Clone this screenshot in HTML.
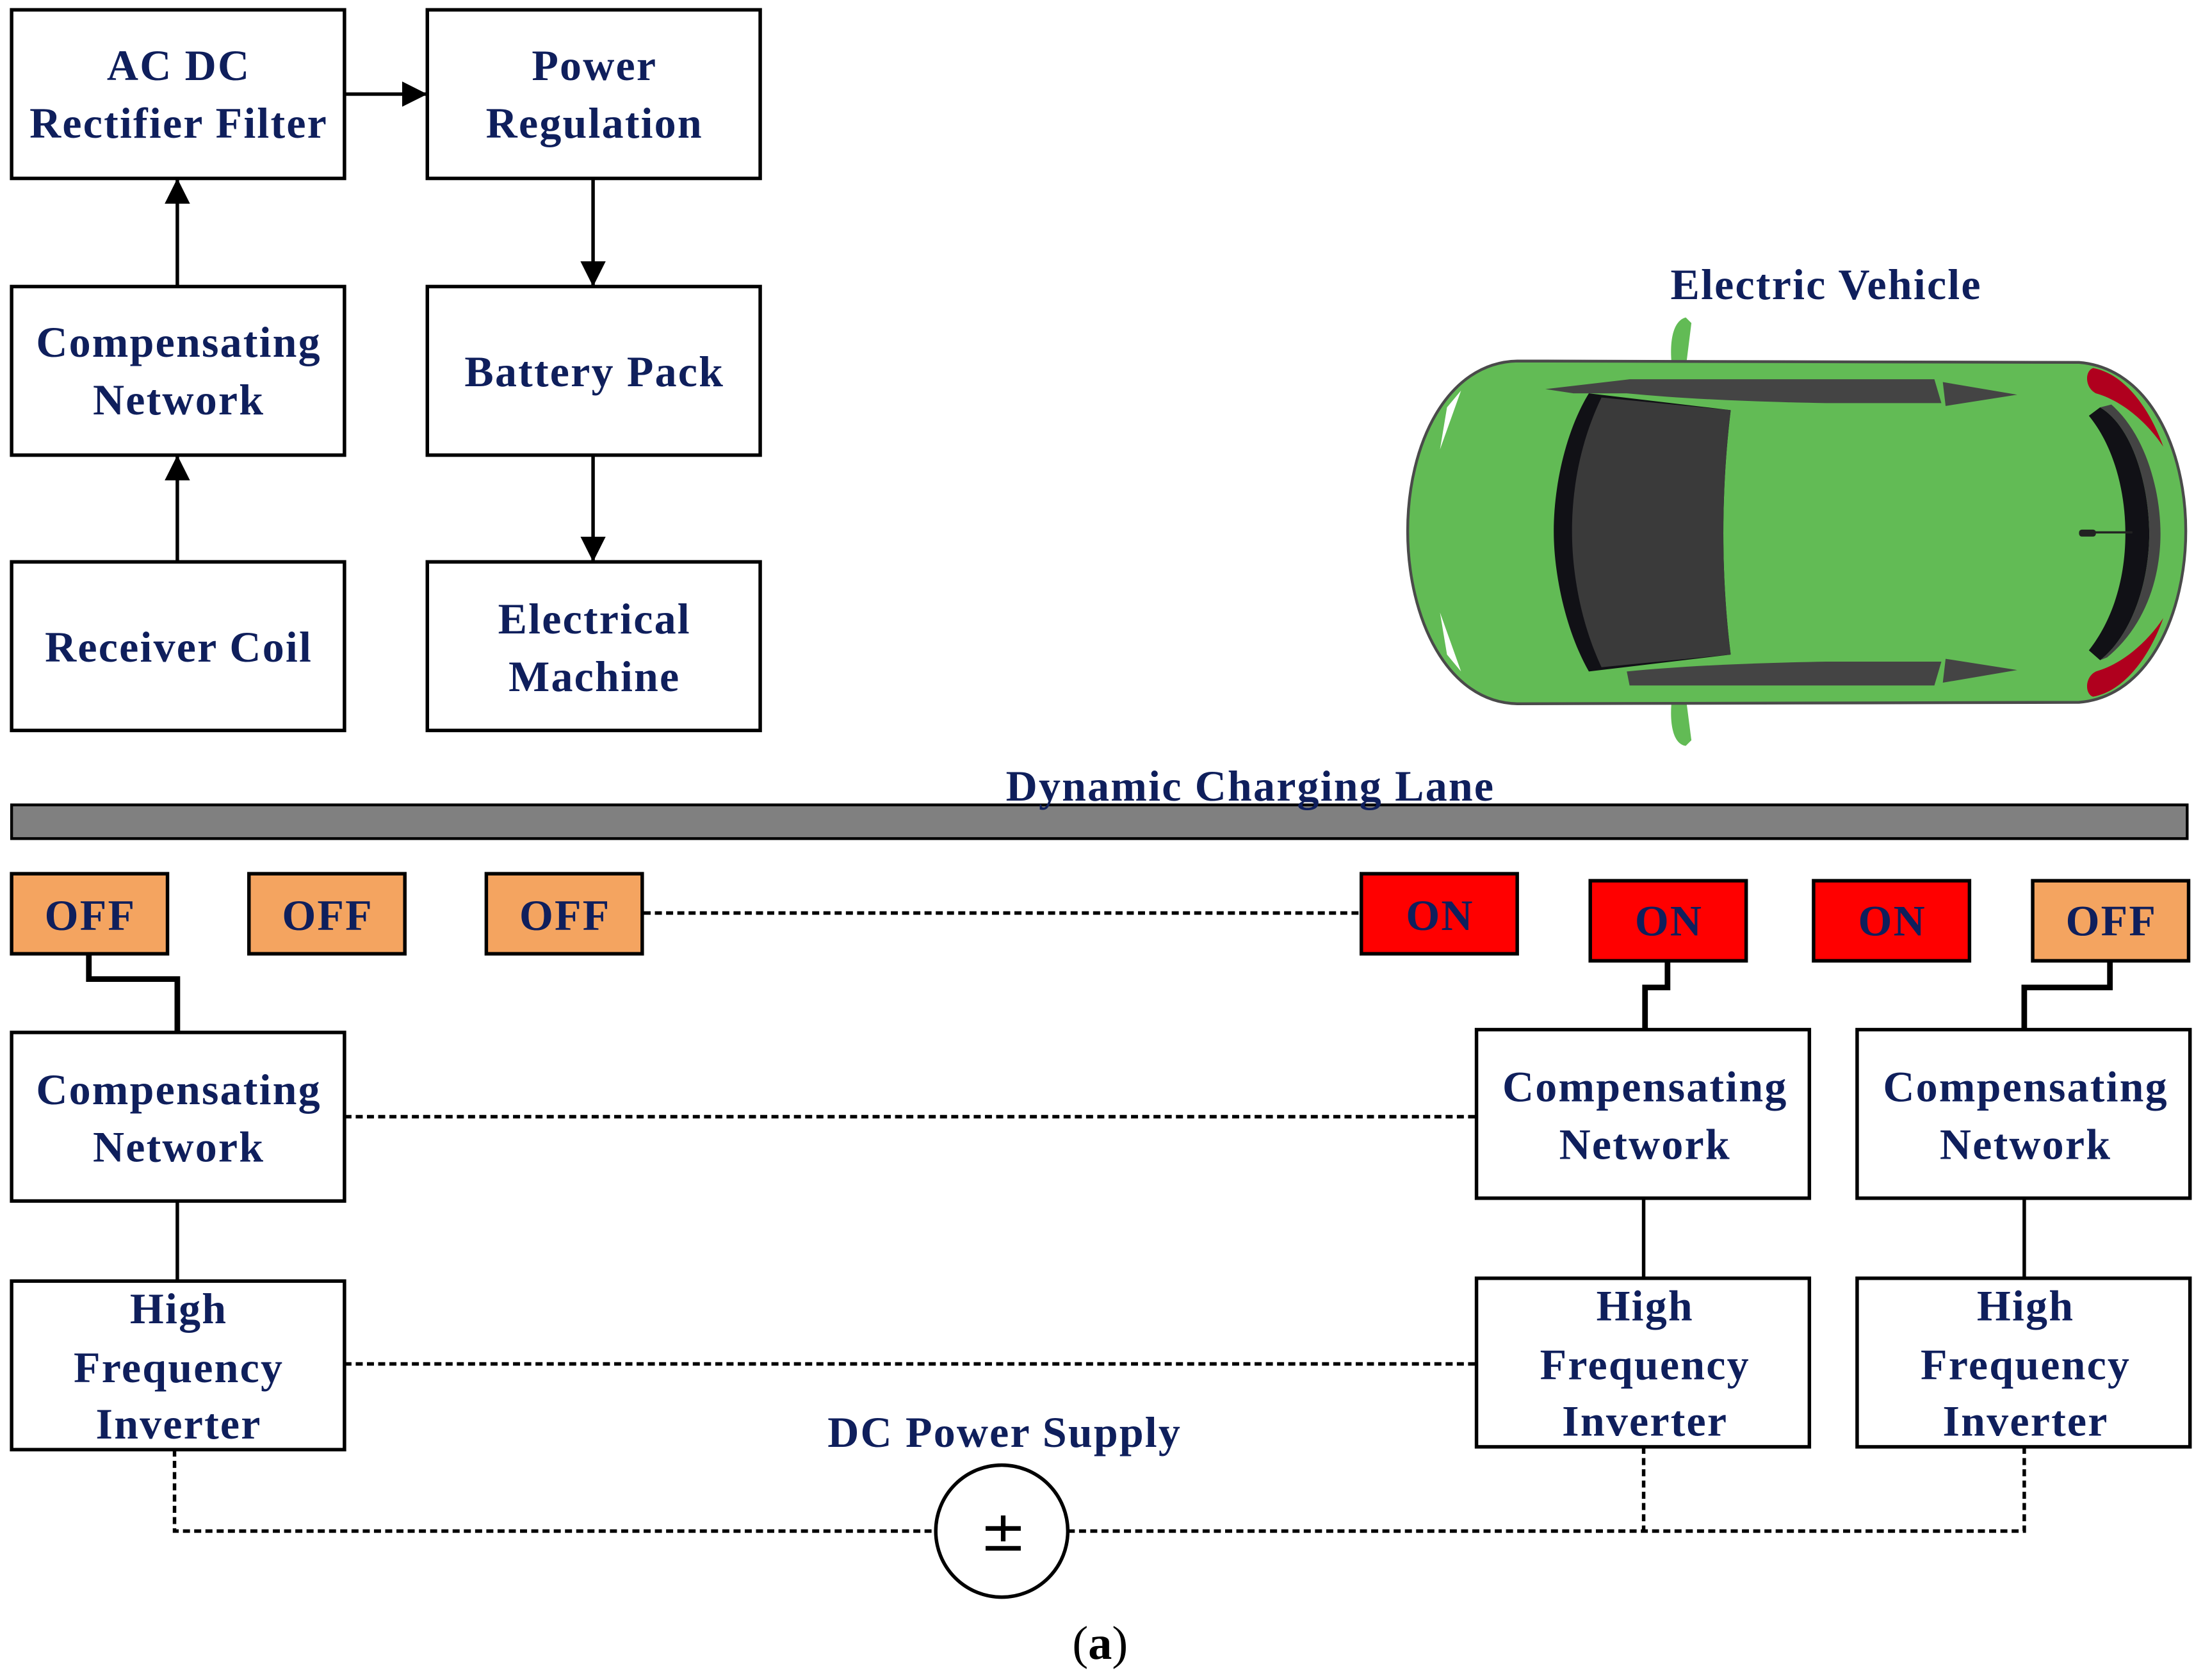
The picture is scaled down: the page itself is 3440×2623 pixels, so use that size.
<!DOCTYPE html>
<html><head><meta charset="utf-8"><style>html,body{margin:0;padding:0;background:#fff}svg{display:block}</style></head>
<body>
<svg width="3440" height="2623" viewBox="0 0 1568 1196" xmlns="http://www.w3.org/2000/svg">
<defs>
<marker id="a2" viewBox="0 0 10 10" markerWidth="18" markerHeight="22" refX="10" refY="5" orient="auto" markerUnits="userSpaceOnUse"><path d="M0,0 L10,5 L0,10 Z" fill="#000"/></marker></defs>
<style>
.b{fill:#fff;stroke:#000;stroke-width:2.5}
.t{font-family:"Liberation Serif",serif;font-weight:bold;font-size:31px;fill:#0f1f5c;text-anchor:middle;letter-spacing:1px}
.d{stroke:#000;stroke-width:2.5;stroke-dasharray:5,3;fill:none}
.k{stroke:#000;stroke-width:4;fill:none}
.l{stroke:#000;stroke-width:2.5;fill:none}
</style>
<rect class="b" x="8" y="7" width="237" height="120"/>
<text class="t" x="127" y="57">AC DC</text><text class="t" x="127" y="98">Rectifier Filter</text>
<rect class="b" x="304" y="7" width="237" height="120"/>
<text class="t" x="423" y="57">Power</text><text class="t" x="423" y="98">Regulation</text>
<rect class="b" x="8" y="204" width="237" height="120"/>
<text class="t" x="127" y="254">Compensating</text><text class="t" x="127" y="295">Network</text>
<rect class="b" x="304" y="204" width="237" height="120"/>
<text class="t" x="423" y="275">Battery Pack</text>
<rect class="b" x="8" y="400" width="237" height="120"/>
<text class="t" x="127" y="471">Receiver Coil</text>
<rect class="b" x="304" y="400" width="237" height="120"/>
<text class="t" x="423" y="451">Electrical</text><text class="t" x="423" y="492">Machine</text>
<line class="l" x1="245" y1="67" x2="304" y2="67" marker-end="url(#a2)"/>
<line class="l" x1="126" y1="204" x2="126" y2="127" marker-end="url(#a2)"/>
<line class="l" x1="126" y1="400" x2="126" y2="324" marker-end="url(#a2)"/>
<line class="l" x1="422" y1="127" x2="422" y2="204" marker-end="url(#a2)"/>
<line class="l" x1="422" y1="324" x2="422" y2="400" marker-end="url(#a2)"/>
<text class="t" x="1300" y="213">Electric Vehicle</text>
<path d="M1190,260 C1188,240 1192,228 1200,226 L1204,230 L1200,262 Z" fill="#62bb55"/>
<path d="M1190,498 C1188,518 1192,530 1200,531 L1204,527 L1200,496 Z" fill="#62bb55"/>
<path d="M1080,257 L1480,258 C1530,262 1556,320 1556,378 C1556,436 1530,496 1480,500 L1080,501 C1030,500 1002,440 1002,378 C1002,316 1030,258 1080,257 Z" fill="#62bb55" stroke="#4a4a4a" stroke-width="2"/>
<path d="M1030,290 L1040,278 L1025,320 Z M1030,466 L1040,478 L1025,436 Z" fill="#fff"/>
<path d="M1100,277 L1120,280 L1158,280 C1200,284 1245,286 1300,287 L1382,287 L1377,270 L1160,270 Z" fill="#444"/>
<path d="M1383,272 L1436,281 L1385,289 Z M1383,486 L1436,477 L1385,469 Z" fill="#444"/>
<path d="M1160,488 L1377,488 L1382,471 L1300,471 C1245,472 1200,474 1158,478 Z" fill="#444"/>
<path d="M1131,280 L1232,292 C1225,350 1225,410 1232,466 L1131,478 C1115,450 1106,410 1106,378 C1106,345 1115,306 1131,280 Z" fill="#111116"/>
<path d="M1140,283 L1232,292 C1225,350 1225,410 1232,466 L1140,475 C1126,445 1119,410 1119,378 C1119,345 1126,312 1140,283 Z" fill="#3a3a3a"/>
<path d="M1487,296 L1495,290 C1520,305 1530,350 1530,380 C1530,410 1520,450 1495,470 L1487,463 C1505,440 1513,410 1513,380 C1513,350 1505,318 1487,296 Z" fill="#111116"/>
<path d="M1495,290 C1520,305 1530,350 1530,380 C1530,410 1520,450 1495,470 L1500,468 C1528,445 1538,410 1538,380 C1538,350 1528,310 1503,288 Z" fill="#444"/>
<path d="M1490,262 C1512,266 1530,290 1540,318 C1528,300 1510,285 1492,280 C1484,276 1484,264 1490,262 Z M1490,496 C1512,492 1530,468 1540,440 C1528,458 1510,473 1492,478 C1484,482 1484,494 1490,496 Z" fill="#b0001e"/>
<line x1="1486" y1="379" x2="1518" y2="379" stroke="#222" stroke-width="1.5"/><rect x="1480" y="377" width="12" height="5" rx="2" fill="#222"/>
<rect x="8" y="573" width="1549" height="24" fill="#808080" stroke="#000" stroke-width="2"/>
<text class="t" x="890" y="570">Dynamic Charging Lane</text>
<g stroke="#000" stroke-width="2.5">
<rect x="8" y="622" width="111" height="57" fill="#f4a460"/>
<rect x="177" y="622" width="111" height="57" fill="#f4a460"/>
<rect x="346" y="622" width="111" height="57" fill="#f4a460"/>
<rect x="969" y="622" width="111" height="57" fill="#ff0000"/>
<rect x="1132" y="627" width="111" height="57" fill="#ff0000"/>
<rect x="1291" y="627" width="111" height="57" fill="#ff0000"/>
<rect x="1447" y="627" width="111" height="57" fill="#f4a460"/>
</g>
<text class="t" x="64" y="662">OFF</text><text class="t" x="233" y="662">OFF</text><text class="t" x="402" y="662">OFF</text>
<text class="t" x="1025" y="662">ON</text><text class="t" x="1188" y="666">ON</text><text class="t" x="1347" y="666">ON</text><text class="t" x="1503" y="666">OFF</text>
<line class="d" x1="458" y1="650" x2="969" y2="650"/>
<polyline class="k" points="63,679 63,697 126,697 126,735"/>
<polyline class="k" points="1187,684 1187,703 1171,703 1171,733"/>
<polyline class="k" points="1502,684 1502,703 1441,703 1441,733"/>
<rect class="b" x="8" y="735" width="237" height="120"/>
<text class="t" x="127" y="786">Compensating</text><text class="t" x="127" y="827">Network</text>
<rect class="b" x="1051" y="733" width="237" height="120"/>
<text class="t" x="1171" y="784">Compensating</text><text class="t" x="1171" y="825">Network</text>
<rect class="b" x="1322" y="733" width="237" height="120"/>
<text class="t" x="1442" y="784">Compensating</text><text class="t" x="1442" y="825">Network</text>
<rect class="b" x="8" y="912" width="237" height="120"/>
<text class="t" x="127" y="942">High</text><text class="t" x="127" y="984">Frequency</text><text class="t" x="127" y="1024">Inverter</text>
<rect class="b" x="1051" y="910" width="237" height="120"/>
<text class="t" x="1171" y="940">High</text><text class="t" x="1171" y="982">Frequency</text><text class="t" x="1171" y="1022">Inverter</text>
<rect class="b" x="1322" y="910" width="237" height="120"/>
<text class="t" x="1442" y="940">High</text><text class="t" x="1442" y="982">Frequency</text><text class="t" x="1442" y="1022">Inverter</text>
<line class="l" x1="126" y1="855" x2="126" y2="912"/>
<line class="l" x1="1170" y1="853" x2="1170" y2="910"/>
<line class="l" x1="1441" y1="853" x2="1441" y2="910"/>
<line class="d" x1="245" y1="795" x2="1051" y2="795"/>
<line class="d" x1="245" y1="971" x2="1051" y2="971"/>
<polyline class="d" points="124,1032 124,1090 667,1090"/>
<polyline class="d" points="760,1090 1441,1090 1441,1030"/>
<line class="d" x1="1170" y1="1030" x2="1170" y2="1090"/>
<circle cx="713" cy="1090" r="47" fill="#fff" stroke="#000" stroke-width="2.5"/>
<text x="714" y="1104" font-family="DejaVu Sans,sans-serif" font-size="40" text-anchor="middle" fill="#000">±</text>
<text class="t" x="715" y="1030">DC Power Supply</text>
<text x="783" y="1181" font-family="Liberation Serif,serif" font-size="34" text-anchor="middle" fill="#000">(<tspan font-weight="bold">a</tspan>)</text>
</svg>
</body></html>
